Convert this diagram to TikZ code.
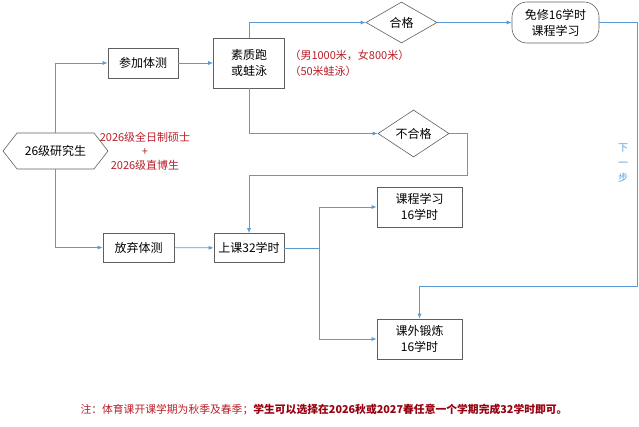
\documentclass[tikz,border=0pt]{standalone}
\usepackage{fontspec}
\setmainfont{Noto Sans CJK SC}
\usetikzlibrary{shapes.geometric,shapes.symbols,arrows.meta}
\definecolor{lineblue}{RGB}{91,155,213}
\definecolor{boxgray}{RGB}{95,95,95}
\definecolor{notered}{RGB}{185,30,40}
\definecolor{darkred}{RGB}{150,0,15}

\begin{document}
\begin{tikzpicture}[x=1pt, y=-1pt, >={Latex[length=5pt,width=4pt]},
    box/.style={draw=boxgray, line width=0.6pt, align=center, inner sep=0pt,
      font=\fontsize{12}{16}\selectfont},
    choice/.style={box, diamond},
    flow/.style={draw=lineblue, line width=0.8pt, ->}]
  \useasboundingbox (0,0) rectangle (639,427);
  \node[box, signal, signal to=west and east, signal pointer angle=104,
    minimum width=105, minimum height=36] (stu) at (55.5,151) {26级研究生};
  \node[box, minimum width=70, minimum height=30] (join) at (143,63) {参加体测};
  \node[box, minimum width=71, minimum height=29] (skip) at (138.5,247.5) {放弃体测};
  \node[box, minimum width=71, minimum height=50] (run) at (249,63) {素质跑\\或蛙泳};
  \node[box, minimum width=70, minimum height=29] (class) at (249,248) {上课32学时};
  \node[choice, minimum width=71, minimum height=41] (pass) at (401.5,22.5) {合格};
  \node[choice, minimum width=71, minimum height=41] (fail) at (413.5,133.5) {不合格};
  \node[box, rounded corners=15, minimum width=87, minimum height=41] (free) at (555.5,22.5) {免修16学时\\课程学习};
  \node[box, minimum width=85, minimum height=40] (course) at (419.5,207) {课程学习\\16学时};
  \node[box, minimum width=85, minimum height=40] (sport) at (419.5,339) {课外锻炼\\16学时};

  \node[align=center, text=notered, font=\fontsize{11}{14}\selectfont] (who) at (145,151)
    {2026级全日制硕士\\+\\2026级直博生};
  \node[anchor=west, align=left, text=notered, font=\fontsize{11}{16}\selectfont] (items) at (286,63)
    {（男1000米，女800米）\\（50米蛙泳）};
  \node[align=center, text=lineblue, font=\fontsize{10}{15}\selectfont] (next) at (623,163) {下\\一\\步};
  \node[anchor=west, text=notered, font=\fontsize{10.8}{13}\selectfont] (note) at (77,410)
    {注：体育课开课学期为秋季及春季；{\bfseries\color{darkred}学生可以选择在2026秋或2027春任意一个学期完成32学时即可。}};

  \coordinate (c1) at (637,286);
  \coordinate (c2) at (467,175);
  \coordinate (c3) at (319,248);

  \draw[flow] (stu.north) |- (join.west);
  \draw[flow] (stu.south) |- (skip.west);
  \draw[flow] (join) -- (run);
  \draw[flow] (skip) -- (class);
  \draw[flow] (run.north) |- (pass.west);
  \draw[flow] (pass) -- (free);
  \draw[flow] (free.east) -| (c1) -| (sport.north);
  \draw[flow] (run.south) |- (fail.west);
  \draw[flow] (fail.east) -| (c2) -| (class.north);
  \draw[flow] (class.east) -- (c3) |- (course.west);
  \draw[flow] (c3) |- (sport.west);
\end{tikzpicture}
\end{document}
